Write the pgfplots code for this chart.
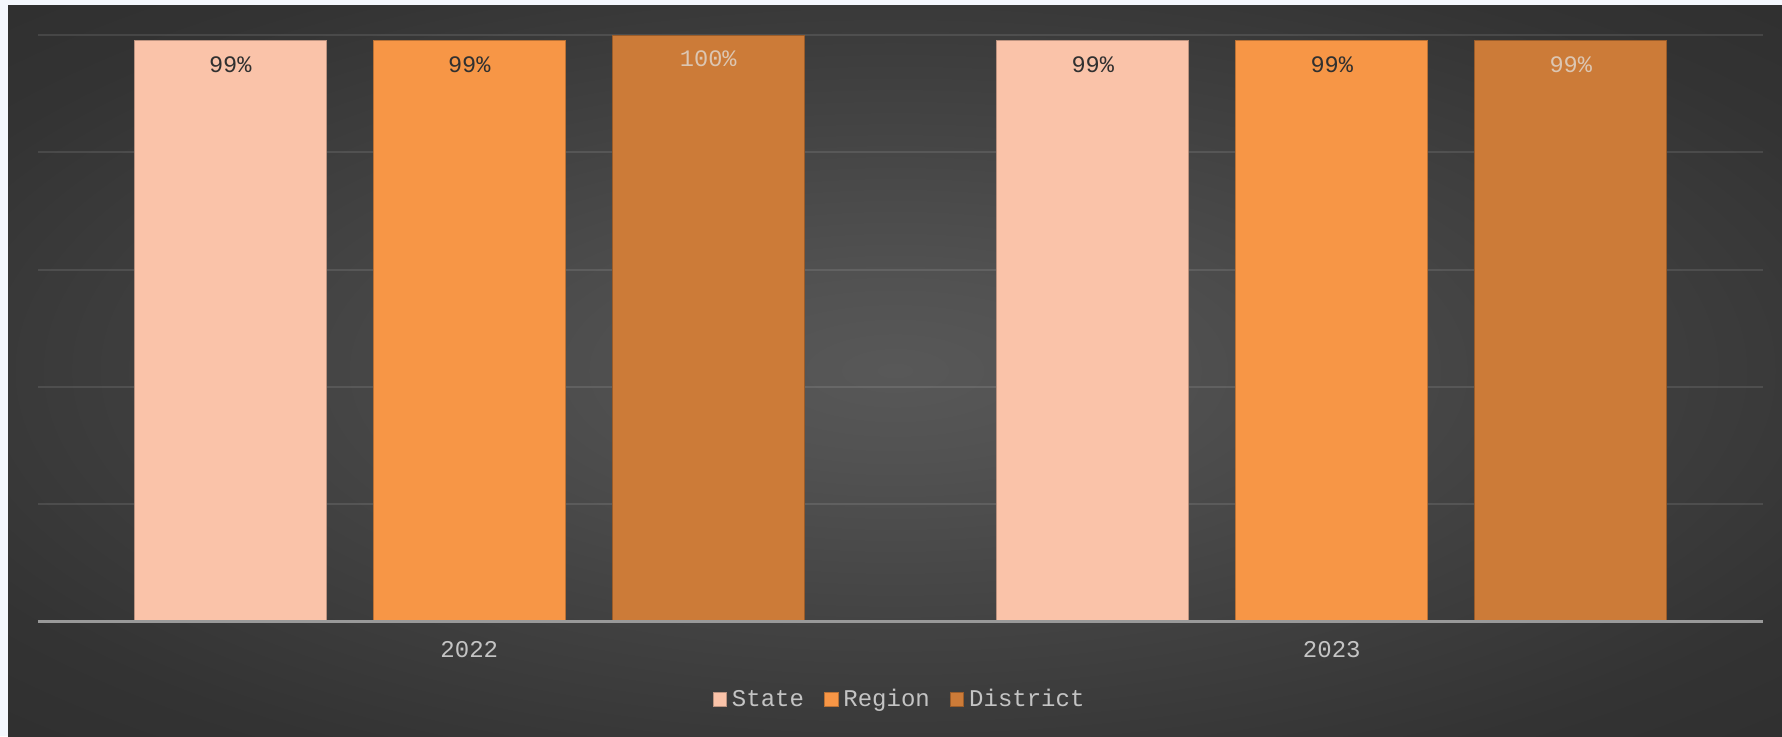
\documentclass[border=0pt]{standalone}
\usepackage{pgfplots}
\pgfplotsset{compat=1.18}
\usepackage{fontspec}
\setmainfont{Liberation Mono}
\definecolor{statec}{HTML}{FAC3A9}
\definecolor{regionc}{HTML}{F79646}
\definecolor{districtc}{HTML}{CC7B38}
\definecolor{pagebg}{HTML}{F4F7FD}
\definecolor{bga}{HTML}{585858}
\definecolor{bgb}{HTML}{525252}
\definecolor{bgc}{HTML}{424242}
\definecolor{bgd}{HTML}{333333}
\definecolor{bge}{HTML}{2A2A2A}
\definecolor{bgf}{HTML}{222222}
\definecolor{ticktext}{HTML}{C4C4C4}
\definecolor{darklab}{HTML}{303030}
\definecolor{lightlab}{HTML}{DCC6B2}
\pgfdeclareradialshading{bgshade}{\pgfpoint{0bp}{0bp}}{color(0bp)=(bga); color(6bp)=(bgb); color(18bp)=(bgc); color(30bp)=(bgd); color(45bp)=(bge); color(72bp)=(bgf)}
\begin{document}
\begin{tikzpicture}
\useasboundingbox (0,0) rectangle (891pt,368pt);
\fill[pagebg] (0,0) rectangle (891pt,368pt);
\shade[shading=bgshade] (4pt,0) rectangle (891pt,365.5pt);
\begin{axis}[
  at={(19pt,57.15pt)}, anchor=south west,
  scale only axis, width=862.5pt, height=293.35pt,
  xmin=-0.5, xmax=1.5, ymin=0, ymax=1,
  ybar=23.5pt, bar width=96pt,
  axis line style={draw=none},
  xtick={0,1}, xticklabels={2022,2023},
  ytick={0,0.2,0.4,0.6,0.8,1}, yticklabels={},
  major tick length=0pt,
  ymajorgrids, grid style={white, opacity=0.1, line width=1pt},
  xticklabel style={text=ticktext, font=\fontsize{12}{14}\selectfont, yshift=-6.5pt},
  point meta=explicit symbolic,
  nodes near coords,
  every node near coord/.append style={anchor=center, yshift=-12pt, font=\fontsize{11.8}{13}\selectfont},
  legend style={at={(axis description cs:0.5,0)}, anchor=center, yshift=-39pt,
    draw=none, fill=none, text=ticktext, font=\fontsize{12}{14}\selectfont,
    /tikz/every even column/.append style={column sep=8pt},
    /tikz/every odd column/.append style={column sep=0.5pt}},
  legend columns=-1,
  legend image code/.code={\fill[#1] (0pt,-3.3pt) rectangle (6.8pt,3.5pt);},
  clip=false,
]
\addplot[fill=statec, draw=statec!75!black, line width=0.4pt,
  every node near coord/.append style={text=darklab}]
  coordinates {(0,0.99) [99\%] (1,0.99) [99\%]};
\addplot[fill=regionc, draw=regionc!75!black, line width=0.4pt,
  every node near coord/.append style={text=darklab}]
  coordinates {(0,0.99) [99\%] (1,0.99) [99\%]};
\addplot[fill=districtc, draw=districtc!75!black, line width=0.4pt,
  every node near coord/.append style={text=lightlab}]
  coordinates {(0,1.0) [100\%] (1,0.99) [99\%]};
\legend{State,Region,District}
\draw[color=black!40!white, line width=1.4pt] (axis cs:-0.5,0) -- (axis cs:1.5,0);
\end{axis}
\end{tikzpicture}
\end{document}
